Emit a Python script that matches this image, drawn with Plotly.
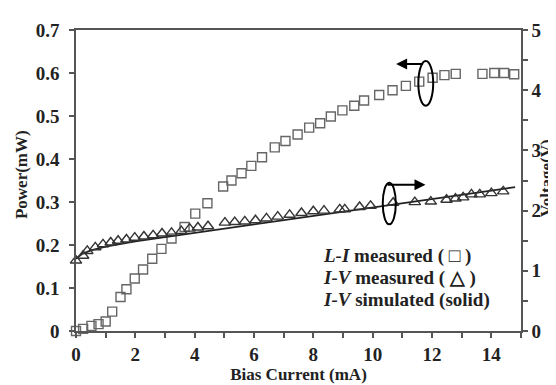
import plotly.graph_objects as go

# L-I measured (squares): bias current (mA), power (mW)
li_current = [0, 0.24, 0.52, 0.76, 1.0, 1.22, 1.5, 1.7, 1.98, 2.26, 2.57, 2.88, 3.22, 3.66, 4.02, 4.43,
              4.96, 5.24, 5.58, 5.91, 6.27, 6.7, 7.06, 7.47, 7.86, 8.23, 8.59, 8.98, 9.38, 9.71,
              10.22, 10.67, 11.12, 11.57, 12.02, 12.42, 12.8, 13.7, 14.1, 14.43, 14.77]
li_power = [0, 0.005, 0.012, 0.016, 0.022, 0.045, 0.079, 0.097, 0.122, 0.143, 0.168, 0.191, 0.215, 0.242,
            0.273, 0.297, 0.336, 0.35, 0.367, 0.384, 0.404, 0.427, 0.442, 0.457, 0.473, 0.483, 0.499,
            0.513, 0.524, 0.536, 0.549, 0.56, 0.57, 0.58, 0.589, 0.595, 0.598, 0.598, 0.6, 0.6, 0.597]

# I-V measured (triangles): bias current (mA), voltage (V)
iv_current = [0, 0.24, 0.38, 0.65, 0.91, 1.17, 1.42, 1.70, 1.98, 2.29, 2.6, 2.9, 3.22, 3.55, 3.83, 4.11,
              4.45, 5.02, 5.35, 5.69, 6.05, 6.42, 6.8, 7.2, 7.6, 8.0, 8.36, 8.89, 9.06, 9.56, 9.93,
              10.69, 11.42, 11.96, 12.49, 12.79, 13.05, 13.33, 13.61, 14.0, 14.4]
iv_voltage = [1.17, 1.25, 1.33, 1.39, 1.44, 1.47, 1.50, 1.52, 1.55, 1.57, 1.59, 1.62, 1.63, 1.66, 1.70,
              1.72, 1.74, 1.80, 1.81, 1.82, 1.84, 1.87, 1.90, 1.93, 1.96, 1.99, 2.0, 2.02, 2.02, 2.06,
              2.08, 2.13, 2.14, 2.15, 2.18, 2.20, 2.22, 2.27, 2.27, 2.29, 2.32]

# I-V simulated (solid line)
sim_current = [0, 0.2, 0.5, 1, 2, 3, 4, 5, 6, 7, 8, 9, 10, 11, 12, 13, 14, 14.8]
sim_voltage = [1.20, 1.28, 1.34, 1.40, 1.49, 1.56, 1.63, 1.70, 1.76, 1.83, 1.90, 1.97, 2.05, 2.12,
               2.19, 2.26, 2.33, 2.39]

FONT = "Liberation Serif, Times New Roman, serif"
AX = "#555555"

fig = go.Figure()
fig.add_trace(go.Scatter(x=sim_current, y=sim_voltage, mode="lines", yaxis="y2",
                         line=dict(color="#222222", width=1.8), showlegend=False))
fig.add_trace(go.Scatter(x=li_current, y=li_power, mode="markers", cliponaxis=False,
                         marker=dict(symbol="square-open", size=9, color="#666666",
                                     line=dict(width=1.4, color="#666666")),
                         showlegend=False))
fig.add_trace(go.Scatter(x=iv_current, y=iv_voltage, mode="markers", yaxis="y2", cliponaxis=False,
                         marker=dict(symbol="triangle-up-open", size=10, color="#333333",
                                     line=dict(width=1.4, color="#333333")),
                         showlegend=False))

tickfont = dict(family=FONT, size=19, color="#222222", weight="bold")
titlefont = dict(family=FONT, size=17, color="#222222", weight="bold")

fig.update_layout(
    width=556, height=385,
    margin=dict(l=68, r=43, t=18, b=62),
    paper_bgcolor="white", plot_bgcolor="white",
    xaxis=dict(range=[0, 15], dtick=2, tick0=0, showgrid=False, zeroline=False,
               showline=True, linecolor=AX, linewidth=1.5, mirror=True,
               ticks="outside", ticklen=5, tickcolor=AX, tickwidth=1.5,
               minor=dict(dtick=1, ticks="outside", ticklen=5, tickcolor=AX, tickwidth=1.5),
               tickfont=tickfont,
               title=dict(text="Bias Current (mA)", font=titlefont, standoff=0)),
    yaxis=dict(range=[0, 0.7], dtick=0.1, tick0=0, showgrid=False, zeroline=False,
               showline=True, linecolor=AX, linewidth=1.5,
               ticks="outside", ticklen=5, tickcolor=AX, tickwidth=1.5,
               ticklabelstandoff=6,
               tickfont=tickfont),
    yaxis2=dict(range=[0, 5], dtick=1, tick0=0, overlaying="y", side="right",
                showgrid=False, zeroline=False,
                showline=True, linecolor=AX, linewidth=1.5,
                ticks="outside", ticklen=5, tickcolor=AX, tickwidth=1.5,
                minor=dict(dtick=0.5, ticks="outside", ticklen=5, tickcolor=AX, tickwidth=1.5),
                tickfont=tickfont),
)

# axis titles placed as rotated annotations
fig.add_annotation(text="Power(mW)", xref="paper", yref="paper", x=(13 - 68) / 445, y=(323 - 165) / 305,
                   xanchor="center", yanchor="middle", textangle=-90, showarrow=False, font=titlefont)
fig.add_annotation(text="Voltage(V)", xref="paper", yref="paper", x=(538 - 68) / 445, y=(323 - 168) / 305,
                   xanchor="center", yanchor="middle", textangle=-90, showarrow=False, font=titlefont)

# ellipses with arrows indicating which axis each curve belongs to
fig.add_shape(type="circle", xref="x", yref="y", x0=11.54, x1=12.04, y0=0.524, y1=0.628,
              line=dict(color="black", width=2))
fig.add_annotation(x=10.79, y=0.621, ax=11.75, ay=0.621, xref="x", yref="y", axref="x", ayref="y",
                   showarrow=True, arrowhead=2, arrowsize=1.1, arrowwidth=2, arrowcolor="black", text="")
fig.add_shape(type="circle", xref="x", yref="y", x0=10.34, x1=10.78, y0=0.248, y1=0.345,
              line=dict(color="black", width=2))
fig.add_annotation(x=11.78, y=0.340, ax=10.45, ay=0.340, xref="x", yref="y", axref="x", ayref="y",
                   showarrow=True, arrowhead=2, arrowsize=1.1, arrowwidth=2, arrowcolor="black", text="")

legend_lines = ["<i>L-I</i> measured ( □ )",
                "<i>I-V</i> measured ( △ )",
                "<i>I-V</i> simulated (solid)"]
legend_y = [246.7, 269.3, 291.7]
for txt, py in zip(legend_lines, legend_y):
    fig.add_annotation(text=txt, xref="paper", yref="paper",
                       x=(313 - 68) / 445, y=(323 - py) / 305, xanchor="left", yanchor="middle",
                       showarrow=False,
                       font=dict(family=FONT, size=19, color="#222222", weight="bold"))

fig.write_html("out.html")
